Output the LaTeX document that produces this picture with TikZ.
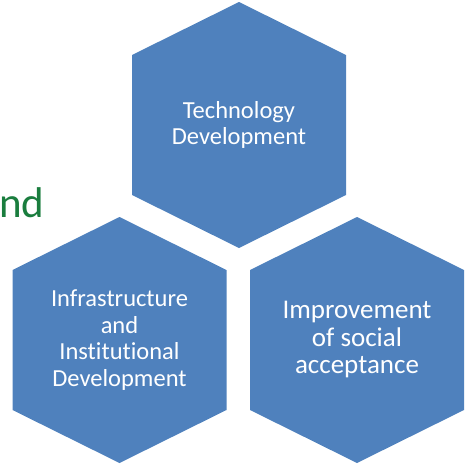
\documentclass[tikz,border=0pt]{standalone}
\usepackage{fontspec}
\setmainfont{Carlito}[Ligatures={NoCommon}]
\usepackage{xcolor}
\usetikzlibrary{positioning}
\definecolor{hexblue}{RGB}{79,129,189}
\definecolor{textgreen}{RGB}{26,125,62}

\begin{document}
\begin{tikzpicture}[x=1pt,y=-1pt,
	hexfill/.style={fill=hexblue,draw=none},
	hextext/.style={text=white,align=center,inner sep=0pt,font=\fontsize{24.5}{26.5}\selectfont}]
		\useasboundingbox (0,0) rectangle (472,466);
		% three hexagons
		\foreach \cx/\cy in {239/125,119.5/340,357/340}
			\fill[hexfill] (\cx,\cy-123) -- (\cx+107,\cy-70) -- (\cx+107,\cy+70) -- (\cx,\cy+123)
				-- (\cx-107,\cy+70) -- (\cx-107,\cy-70) -- cycle;
		\node[hextext] (tech) at (239,125) {Technology\\Development};
		\node[hextext] (infra) at (119.5,340) {Infrastructure\\and\\Institutional\\Development};
		\node[hextext,font=\fontsize{27}{27.5}\selectfont] (social) at (357,340) {Improvement\\of social\\acceptance};
		\node[text=textgreen,anchor=base west,inner sep=0pt,font=\fontsize{43}{46}\selectfont] (nd) at (-1,217) {nd};
		\end{tikzpicture}
\end{document}
